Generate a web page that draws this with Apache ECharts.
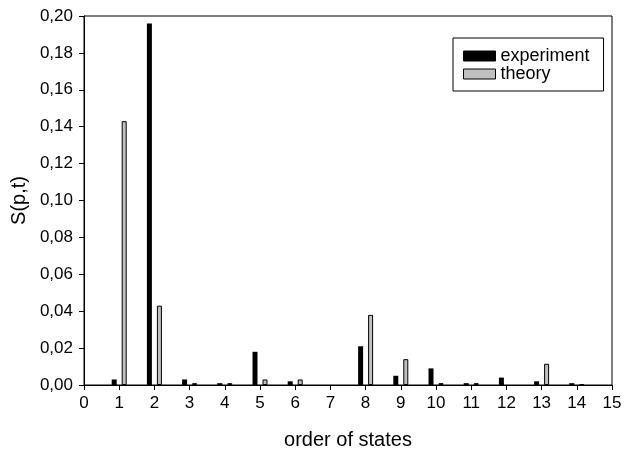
<!DOCTYPE html>
<html>
<head>
<meta charset="utf-8">
<script src="https://cdn.jsdelivr.net/npm/echarts@6/dist/echarts.min.js"></script>
<style>
  html, body { margin: 0; padding: 0; background: #fff; }
  #chart { width: 625px; height: 450px; }
</style>
</head>
<body>
<div id="chart"></div>
<script>
  // order of states
  const states = [1, 2, 3, 4, 5, 6, 7, 8, 9, 10, 11, 12, 13, 14]
  // S(p,t) values, null = no bar drawn
  const experiment = [0.003, 0.196, 0.003, 0.001, 0.018, 0.002, null, 0.021, 0.005, 0.009, 0.001, 0.004, 0.002, 0.001]
  const theory = [0.143, 0.043, 0.001, 0.001, 0.003, 0.003, null, 0.038, 0.014, 0.001, 0.001, null, 0.0115, 0.0005]

  const font = 'Liberation Sans, Arial, sans-serif'
  const pairs = (vals) => states.map((s, i) => (vals[i] == null ? [s, '-'] : [s, vals[i]]))

  const chart = echarts.init(document.getElementById('chart'))
  chart.setOption({
    animation: false,
    textStyle: { fontFamily: font },
    grid: {
      left: 84,
      right: 13,
      top: 16,
      bottom: 65,
      containLabel: false,
      outerBoundsMode: 'none',
      show: true,
      borderColor: '#000',
      borderWidth: 1,
    },
    legend: {
      orient: 'vertical',
      left: 453,
      top: 38,
      padding: [9, 14, 8, 10],
      itemWidth: 32,
      itemHeight: 10,
      itemGap: 0,
      borderColor: '#000',
      borderWidth: 1,
      borderRadius: 0,
      backgroundColor: '#fff',
      textStyle: { fontFamily: font, fontSize: 18, lineHeight: 16, color: '#000' },
      data: [
        { name: 'experiment', icon: 'rect', itemStyle: { color: '#000', borderColor: '#000', borderWidth: 1 } },
        { name: 'theory', icon: 'rect', itemStyle: { color: '#c0c0c0', borderColor: '#000', borderWidth: 1 } },
      ],
    },
    xAxis: {
      type: 'value',
      min: 0,
      max: 15,
      interval: 1,
      name: 'order of states',
      nameLocation: 'middle',
      nameGap: 45,
      nameTextStyle: { fontFamily: font, fontSize: 20, color: '#000' },
      axisLine: { lineStyle: { color: '#000', width: 1 } },
      axisTick: { show: true, length: 5, lineStyle: { color: '#000' } },
      axisLabel: { color: '#000', fontSize: 17, margin: 10, fontFamily: font },
      splitLine: { show: false },
    },
    yAxis: {
      type: 'value',
      min: 0,
      max: 0.2,
      interval: 0.02,
      name: 'S(p,t)',
      nameLocation: 'middle',
      nameGap: 55,
      nameRotate: 90,
      nameTextStyle: { fontFamily: font, fontSize: 20, color: '#000' },
      axisLine: { show: true, lineStyle: { color: '#000', width: 1 } },
      axisTick: { show: true, length: 5, lineStyle: { color: '#000' } },
      axisLabel: {
        color: '#000',
        fontSize: 17,
        margin: 11,
        fontFamily: font,
        formatter: (v) => v.toFixed(2).replace('.', ','),
      },
      splitLine: { show: false },
    },
    series: [
      {
        name: 'experiment',
        type: 'bar',
        data: pairs(experiment),
        barWidth: 5,
        barGap: '100%',
        itemStyle: { color: '#000' },
      },
      {
        name: 'theory',
        type: 'bar',
        data: pairs(theory),
        barWidth: 5,
        barGap: '100%',
        itemStyle: { color: '#c0c0c0', borderColor: '#000', borderWidth: 1 },
      },
    ],
  })
</script>
</body>
</html>
